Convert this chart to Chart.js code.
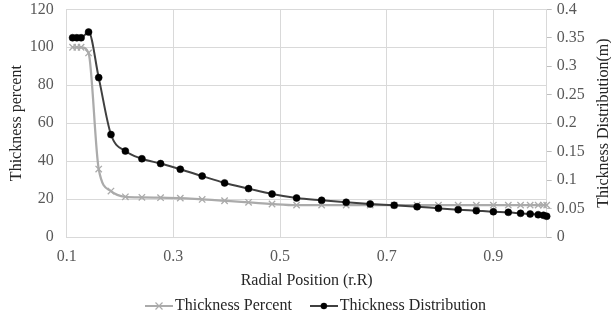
<!DOCTYPE html>
<html><head><meta charset="utf-8">
<script src="https://cdn.jsdelivr.net/npm/chart.js@4"></script>
<style>html,body{margin:0;padding:0;background:#fff}</style>
</head><body>
<canvas id="c" width="611" height="320"></canvas>
<script>
// ---- data ----
const radialPosition = [0.111,0.119,0.127,0.141,0.160,0.183,0.210,0.241,0.276,0.313,0.354,0.396,0.441,0.485,0.531,0.578,0.624,0.669,0.714,0.757,0.797,0.834,0.868,0.900,0.928,0.951,0.969,0.984,0.994,1.000];
const thicknessPercent = [100,100,100,97,35.8,24.2,21.2,20.9,20.7,20.5,19.8,19.1,18.3,17.4,16.8,16.8,16.8,16.8,16.8,16.8,16.8,16.8,16.8,16.8,16.8,16.8,16.8,16.8,16.8,16.8];
const thicknessDistribution = [0.35,0.35,0.35,0.36,0.28,0.18,0.151,0.1375,0.129,0.119,0.107,0.095,0.085,0.0755,0.0685,0.0645,0.061,0.058,0.0557,0.0532,0.0504,0.048,0.0462,0.0444,0.0434,0.0416,0.0404,0.0392,0.0381,0.0364];
const xTickValues = [0.1,0.3,0.5,0.7,0.9];
const seriesLabels = ['Thickness Percent','Thickness Distribution'];
const xAxisTitle = 'Radial Position (r.R)';
const leftAxisTitle = 'Thickness percent';
const rightAxisTitle = 'Thickness Distribution(m)';

const FONT = 'Liberation Serif';
const GRID = '#d9d9d9';
const GRAY = '#ababab';
const DARK = '#404040';

function legendImage(kind){
  const c = document.createElement('canvas');
  c.width = 28; c.height = 10;
  const g = c.getContext('2d');
  g.lineWidth = 2;
  g.strokeStyle = kind === 'x' ? GRAY : DARK;
  g.beginPath(); g.moveTo(0,5); g.lineTo(28,5); g.stroke();
  if (kind === 'x') {
    g.lineWidth = 1.2;
    g.beginPath(); g.moveTo(10.5,1.5); g.lineTo(17.5,8.5); g.moveTo(17.5,1.5); g.lineTo(10.5,8.5); g.stroke();
  } else {
    g.fillStyle = '#000';
    g.beginPath(); g.arc(14,5,3.2,0,Math.PI*2); g.fill();
  }
  return c;
}
const legendImgs = [legendImage('x'), legendImage('o')];

const legendShift = {
  id: 'legendShift',
  afterLayout(chart){
    const l = chart.legend; const dx = 13, dy = 4;
    l.left += dx; l.right += dx; l.top += dy; l.bottom += dy;
  }
};
const rightTitle = {
  id: 'rightTitle',
  afterDraw(chart){
    const s = chart.scales.y2, ctx = chart.ctx;
    ctx.save();
    ctx.translate(s.right - 7, (s.top + s.bottom) / 2);
    ctx.rotate(-Math.PI / 2);
    ctx.font = '16px "' + FONT + '"';
    ctx.fillStyle = '#262626';
    ctx.textAlign = 'center'; ctx.textBaseline = 'middle';
    ctx.fillText(rightAxisTitle, 0, 0);
    ctx.restore();
  }
};
function noVPad(s){ s.paddingTop = 0; s.paddingBottom = 0; }

Chart.defaults.font.family = FONT;
Chart.defaults.font.size = 16;

new Chart(document.getElementById('c'), {
  type: 'scatter',
  data: {
    datasets: [
      {
        label: seriesLabels[0],
        data: radialPosition.map((x,i)=>({x, y: thicknessPercent[i]})),
        yAxisID: 'y',
        showLine: true,
        cubicInterpolationMode: 'monotone',
        borderColor: GRAY, backgroundColor: GRAY,
        borderWidth: 2.25,
        pointStyle: 'crossRot', pointRadius: 4.5, pointBorderWidth: 1.3,
        order: 2, clip: false
      },
      {
        label: seriesLabels[1],
        data: radialPosition.map((x,i)=>({x, y: thicknessDistribution[i]})),
        yAxisID: 'y2',
        showLine: true,
        cubicInterpolationMode: 'monotone',
        borderColor: DARK, backgroundColor: '#000',
        borderWidth: 2,
        pointStyle: 'circle', pointRadius: 3.5, pointBorderWidth: 0.5,
        pointBorderColor: '#000', pointBackgroundColor: '#000',
        order: 1, clip: false
      }
    ]
  },
  options: {
    responsive: false,
    devicePixelRatio: 1,
    animation: false,
    layout: { padding: { top: 9.3, left: 0, right: 0, bottom: 0 } },
    plugins: {
      tooltip: { enabled: false },
      legend: {
        position: 'bottom',
        labels: {
          usePointStyle: true, pointStyleWidth: 16, padding: 24,
          color: '#262626', font: { size: 16, family: FONT },
          generateLabels(chart){
            const items = Chart.defaults.plugins.legend.labels.generateLabels(chart);
            items.sort((a,b)=>a.datasetIndex - b.datasetIndex);
            items.forEach(it=>{ it.pointStyle = legendImgs[it.datasetIndex]; it.rotation = 0; });
            return items;
          }
        }
      }
    },
    scales: {
      x: {
        type: 'linear', position: 'bottom', min: 0.1, max: 1.0,
        afterBuildTicks(s){ s.ticks = xTickValues.map(v=>({value:v})); },
        ticks: { padding: 10, color: '#595959', callback: v => String(+v.toFixed(2)) },
        grid: { color: GRID, drawTicks: false },
        border: { color: GRID },
        title: { display: true, text: xAxisTitle, color: '#262626', padding: { top: 0, bottom: -20 } },
        afterFit(s){ s.height = 33; }
      },
      y: {
        position: 'left', min: 0, max: 120,
        ticks: { stepSize: 20, padding: 13, color: '#595959' },
        grid: { color: GRID, drawTicks: false },
        border: { color: GRID },
        title: { display: true, text: leftAxisTitle, color: '#262626', padding: { top: 7, bottom: 0 } },
        afterFit(s){ s.width = 66.7; noVPad(s); }
      },
      y2: {
        position: 'right', min: 0, max: 0.4,
        ticks: { stepSize: 0.05, padding: 5, color: '#595959', callback: v => String(+v.toFixed(2)) },
        grid: { drawOnChartArea: false, color: '#bfbfbf', tickLength: 5 },
        border: { color: GRID },
        afterFit(s){ s.width = 611 - 546.7; noVPad(s); }
      }
    }
  },
  plugins: [legendShift, rightTitle]
});
</script>
</body></html>
